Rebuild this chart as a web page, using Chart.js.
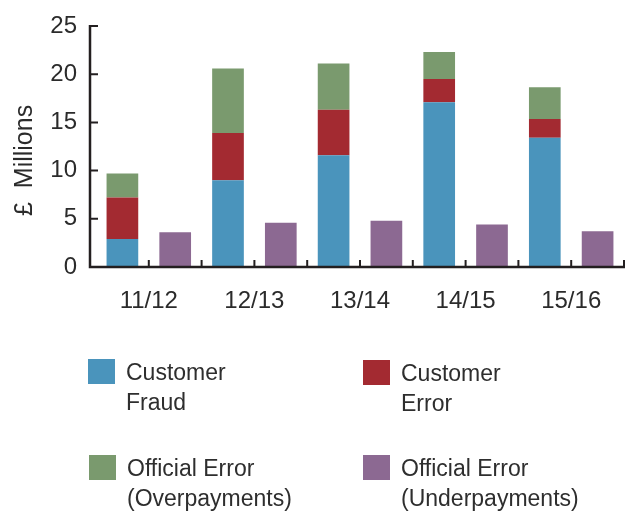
<!DOCTYPE html>
<html>
<head>
<meta charset="utf-8">
<script src="https://cdn.jsdelivr.net/npm/chart.js@4/dist/chart.umd.min.js"></script>
<style>
  body { margin: 0; background: #fff; }
  #wrap { position: relative; width: 635px; height: 511px; overflow: hidden; }
  #legend { position: absolute; left: 0; top: 0; width: 635px; height: 511px; font-family: "Liberation Sans", Arial, sans-serif; font-size: 23px; color: #2e2e2e; }
  .item { position: absolute; display: flex; align-items: flex-start; }
  .box { width: 27px; height: 25px; margin-top: 2px; margin-right: 11px; }
  .txt { line-height: 30px; white-space: nowrap; }
</style>
</head>
<body>
<div id="wrap">
  <canvas id="payments_chart" width="635" height="330"></canvas>
  <div id="legend"></div>
</div>
<script>
// years on the x axis
var years = ['11/12', '12/13', '13/14', '14/15', '15/16']

// £ millions
var customerFraud = [2.9, 9.0, 11.6, 17.1, 13.4]
var customerError = [4.3, 4.9, 4.7, 2.4, 1.95]
var officialOver = [2.5, 6.7, 4.8, 2.8, 3.3]
var officialUnder = [3.6, 4.6, 4.8, 4.4, 3.7]

var yTicks = [0, 5, 10, 15, 20, 25]

var bar_color = ['#4a94bc', '#a32a31', '#7a9a6e', '#8c6992']
var legend_lines = [['Customer', 'Fraud'], ['Customer', 'Error'], ['Official Error', '(Overpayments)'], ['Official Error', '(Underpayments)']]
var legend_pos = [[88, 357], [363, 358], [89, 453], [363, 453]]

var axis_color = '#231f20'
var text_color = '#2b2b2b'

// draws the axis lines and the short inward ticks
var axisLines = {
  id: 'axisLines',
  afterDraw: function(chart) {
    var ctx = chart.ctx
    var area = chart.chartArea
    var x = chart.scales.x
    var y = chart.scales.y
    var x0 = area.left - 6
    var yBase = y.getPixelForValue(0)
    ctx.save()
    ctx.strokeStyle = axis_color
    ctx.lineWidth = 2.5
    ctx.beginPath()
    ctx.moveTo(x0, y.getPixelForValue(25) - 1)
    ctx.lineTo(x0, yBase)
    ctx.lineTo(area.right + 1, yBase)
    ctx.stroke()

    ctx.lineWidth = 2
    ctx.beginPath()
    y.ticks.forEach(function(t) {
      var py = y.getPixelForValue(t.value)
      ctx.moveTo(x0, py)
      ctx.lineTo(x0 + 8, py)
    })
    var half = (x.getPixelForValue(1) - x.getPixelForValue(0)) / 2
    for (var i = 0; i < years.length; i++) {
      var cx = x.getPixelForValue(i)
      ctx.moveTo(cx, yBase)
      ctx.lineTo(cx, yBase - 7)
      ctx.moveTo(cx + half, yBase)
      ctx.lineTo(cx + half, yBase - 7)
    }
    ctx.stroke()
    ctx.restore()
  }
}

var data = {
  labels: years,
  datasets: [
    { label: 'Customer Fraud', data: customerFraud, backgroundColor: bar_color[0], stack: 'over' },
    { label: 'Customer Error', data: customerError, backgroundColor: bar_color[1], stack: 'over' },
    { label: 'Official Error (Overpayments)', data: officialOver, backgroundColor: bar_color[2], stack: 'over' },
    { label: 'Official Error (Underpayments)', data: officialUnder, backgroundColor: bar_color[3], stack: 'under' }
  ]
}

var chart_element = document.getElementById('payments_chart').getContext('2d')
var myChart = new Chart(chart_element, {
  type: 'bar',
  data: data,
  plugins: [axisLines],
  options: {
    responsive: false,
    animation: false,
    categoryPercentage: 1.0,
    barPercentage: 0.6,
    layout: { padding: { top: 26, right: 11, left: 0, bottom: 0 } },
    plugins: {
      legend: { display: false },
      tooltip: { enabled: false }
    },
    scales: {
      x: {
        stacked: true,
        grid: { display: false, drawTicks: false },
        border: { display: false },
        ticks: {
          padding: 20,
          color: text_color,
          font: { family: 'Liberation Sans', size: 24 }
        },
        afterFit: function(s) { s.height = 63 }
      },
      y: {
        stacked: true,
        min: 0,
        max: 25,
        afterBuildTicks: function(s) {
          s.ticks = yTicks.map(function(v) { return { value: v } })
        },
        grid: { display: false, drawTicks: false },
        border: { display: false },
        ticks: {
          padding: 19,
          color: text_color,
          font: { family: 'Liberation Sans', size: 24 }
        },
        title: {
          display: true,
          text: '£  Millions    ',
          color: text_color,
          padding: { top: 10, bottom: 0 },
          font: { family: 'Liberation Sans', size: 25 }
        },
        afterFit: function(s) {
          s.width = 96
          s.paddingTop = 0
          s.paddingBottom = 0
        }
      }
    }
  }
})

// html legend so the labels can wrap onto two lines
var legend = document.getElementById('legend')
myChart.data.datasets.forEach(function(ds, i) {
  var item = document.createElement('div')
  item.className = 'item'
  item.style.left = legend_pos[i][0] + 'px'
  item.style.top = legend_pos[i][1] + 'px'
  var box = document.createElement('div')
  box.className = 'box'
  box.style.background = ds.backgroundColor
  var txt = document.createElement('div')
  txt.className = 'txt'
  txt.innerHTML = legend_lines[i].join('<br>')
  item.appendChild(box)
  item.appendChild(txt)
  legend.appendChild(item)
})
</script>
</body>
</html>
